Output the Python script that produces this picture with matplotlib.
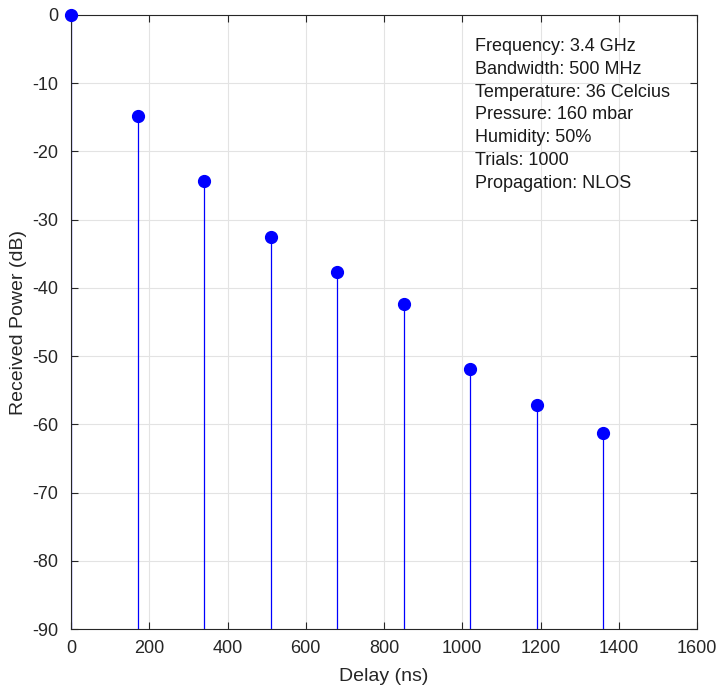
import numpy as np
import matplotlib.pyplot as plt

plt.rcParams['font.family'] = ['Liberation Sans', 'DejaVu Sans']
plt.rcParams['axes.unicode_minus'] = False

delay_ns = [0, 170, 340, 510, 680, 850, 1020, 1190, 1360]
power_db = [0, -14.8, -24.4, -32.5, -37.7, -42.4, -51.9, -57.2, -61.2]
info_lines = ["Frequency: 3.4 GHz", "Bandwidth: 500 MHz", "Temperature: 36 Celcius",
              "Pressure: 160 mbar", "Humidity: 50%", "Trials: 1000", "Propagation: NLOS"]

fig = plt.figure(figsize=(7.18, 6.91), dpi=100)
ax = fig.add_axes([0.0989, 0.0897, 0.8719, 0.8886])

markerline, stemlines, baseline = ax.stem(delay_ns, power_db, bottom=-90, basefmt=' ')
plt.setp(stemlines, color='#0000ff', linewidth=0.9)
plt.setp(markerline, color='#0000ff', marker='o', markersize=8.5, clip_on=False, zorder=5)

ax.set_xlim(0, 1600)
ax.set_ylim(-90, 0)
ax.set_xticks(np.arange(0, 1601, 200))
ax.set_yticks(np.arange(-90, 1, 10))
ax.grid(True, color='#e3e3e3', linewidth=0.8)
ax.set_axisbelow(True)
ax.tick_params(direction='in', top=True, right=True, length=5, labelsize=13,
               colors='#262626', width=0.8)
ax.tick_params(axis='x', pad=8)
ax.tick_params(axis='y', pad=9)
for s in ax.spines.values():
    s.set_color('#262626')
    s.set_linewidth(0.8)
ax.set_xlabel('Delay (ns)', fontsize=14, color='#262626', labelpad=8)
ax.set_ylabel('Received Power (dB)', fontsize=14, color='#262626', labelpad=4)

ax.text(0.645, 0.962, "\n".join(info_lines), transform=ax.transAxes, va='top', ha='left',
        fontsize=13, linespacing=1.44, color='#1a1a1a')

fig.savefig('out.png', dpi=100)
